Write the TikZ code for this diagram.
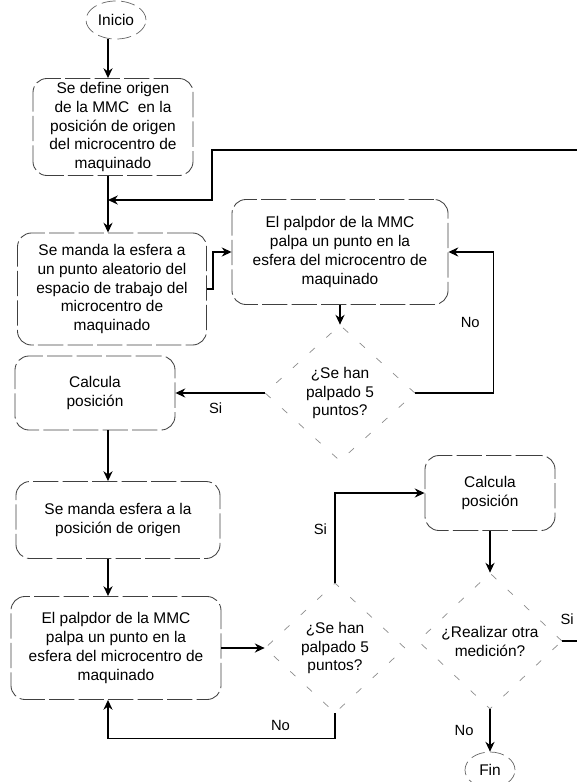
\documentclass[tikz,border=0pt]{standalone}
\usepackage{fontspec}
\setmainfont{Liberation Sans}
\usetikzlibrary{shapes.geometric,arrows.meta}
\newcommand\spinex{108}

\begin{document}
\begin{tikzpicture}[x=0.025cm, y=-0.025cm, >={Stealth[length=7pt,width=6.5pt]}, line width=0.8pt,
  txt/.style={font=\fontsize{11}{13.5}\selectfont, align=center},
  box/.style={txt, rectangle, rounded corners=10pt, draw=black!75, line width=0.6pt, dash pattern=on 18pt off 3pt, inner sep=2pt},
  decision/.style={txt, diamond, draw=black!45, line width=0.5pt, dash pattern=on 5pt off 11pt, inner sep=0pt},
  terminal/.style={txt, ellipse, draw=black!60, line width=0.5pt, dash pattern=on 10pt off 4pt, inner sep=1pt},
  lbl/.style={font=\fontsize{10.5}{12}\selectfont}]
\useasboundingbox (0,0) rectangle (577,782);

%left column
\node at (116, 20) [terminal, minimum width=1.5cm, minimum height=0.95cm] (inicio) {Inicio};
\node at (113, 127) [box, minimum width=4cm, minimum height=2.425cm] (origen) {Se define origen\\de la MMC\ \ en la\\posición de origen\\del microcentro de\\maquinado};
\node at (112, 289) [box, minimum width=4.725cm, minimum height=2.8cm] (aleatorio) {Se manda la esfera a\\un punto aleatorio del\\espacio de trabajo del\\microcentro de\\maquinado};
\node at (95, 393) [box, minimum width=4cm, minimum height=1.85cm] (calcA) {Calcula\\posición};
\node at (118, 520) [box, minimum width=5.1cm, minimum height=1.925cm] (regreso) {Se manda esfera a la\\posición de origen};
\node at (116, 648) [box, minimum width=5.25cm, minimum height=2.575cm] (palpaB) {El palpdor de la MMC\\palpa un punto en la\\esfera del microcentro de\\maquinado};

%right side
\node at (340, 252) [box, minimum width=5.4cm, minimum height=2.625cm] (palpaA) {El palpdor de la MMC\\palpa un punto en la\\esfera del microcentro de\\maquinado};
\node at (340, 393) [decision, minimum width=3.75cm, minimum height=3.4cm] (cincoA) {¿Se han\\palpado 5\\puntos?};
\node at (335, 648) [decision, minimum width=3.5cm, minimum height=3.25cm] (cincoB) {¿Se han\\palpado 5\\puntos?};
\node at (490, 493) [box, minimum width=3.25cm, minimum height=1.875cm] (calcB) {Calcula\\posición};
\node at (490, 641) [decision, minimum width=3.6cm, minimum height=3.4cm] (otra) {¿Realizar otra\\medición?};
\node at (490, 770) [terminal, minimum width=1.25cm, minimum height=0.9cm] (fin) {Fin};

\coordinate (spine) at (\spinex, 0);
\coordinate (join) at (\spinex, 200);

%main flow
\draw [->] (inicio.south -| spine) -- (origen.north -| spine);
\draw [->] (origen.south -| spine) -- (aleatorio.north -| spine);
\draw [->] (aleatorio.east) -- ++(6, 0) |- (palpaA.west);
\draw [->] (palpaA.south) -- (cincoA.north);
\draw [->] (cincoA.west) -- (calcA.east) node[pos=0.55, below=3pt, lbl] {Si};
\draw [->] (cincoA.east) -- ++(78, 0) |- (palpaA.east) node[pos=0.25, left=6pt, lbl] {No};
\draw [->] (calcA.south -| spine) -- (regreso.north -| spine);
\draw [->] (regreso.south -| spine) -- (palpaB.north -| spine);
\draw [->] (palpaB.east) -- (cincoB.west);
\draw [->] (cincoB.north) |- (calcB.west) node[pos=0.3, left=2pt, lbl] {Si};
\draw [->] (cincoB.south) -- ++(0, 25) -| (palpaB.south -| spine) node[pos=0.12, above=2pt, lbl] {No};
\draw [->] (calcB.south) -- (otra.north);
\draw [->] (otra.south) -- (fin.north) node[midway, left=8pt, lbl] {No};

%repeat measurement, runs off the page
\draw [->] (otra.east) -- ++(40, 0) node[pos=0.12, above=8pt, lbl] {Si} |- (212, 150) |- (join);
\end{tikzpicture}
\end{document}
